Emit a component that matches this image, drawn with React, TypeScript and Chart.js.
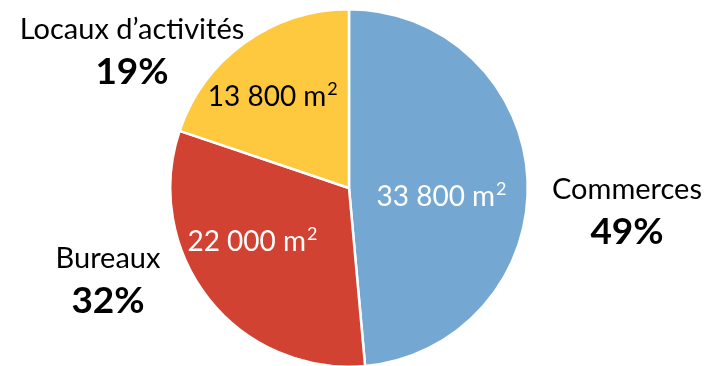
import React, { useEffect, useRef } from "react";
import { Chart, registerables } from "chart.js";

Chart.register(...registerables);

const categories = ["Commerces", "Bureaux", "Locaux d\u2019activités"];
const surfaces = [33800, 22000, 13800];
const surfaceLabels = ["33 800 m", "22 000 m", "13 800 m"];
const unitExponent = "2";
const percentLabels = ["49%", "32%", "19%"];
const colors = ["#74A7D2", "#D14233", "#FEC93F"];
const innerTextColors = ["#FFFFFF", "#FFFFFF", "#000000"];

// layout of labels (not data): angle offset from slice middle (deg), radius fraction
const innerAngleOffset = [8.1, 8.9, -4.2];
const innerRadiusFrac = [0.52, 0.62, 0.665];
const outsideAnchors = [
  { x: 627, y: 190 },
  { x: 108, y: 259 },
  { x: 132, y: 30 },
];

const FONT = "Lato, 'Open Sans', sans-serif";

const labelPlugin = {
  id: "pieLabels",
  afterDatasetsDraw(chart: any) {
    const ctx = chart.ctx;
    const meta = chart.getDatasetMeta(0);
    ctx.save();
    ctx.textBaseline = "middle";
    meta.data.forEach((arc: any, i: number) => {
      const p = arc.getProps(["x", "y", "startAngle", "endAngle", "outerRadius"], true);
      const mid = (p.startAngle + p.endAngle) / 2 + (innerAngleOffset[i] * Math.PI) / 180;
      const r = p.outerRadius * innerRadiusFrac[i];
      const x = p.x + Math.cos(mid) * r;
      const y = p.y + Math.sin(mid) * r;
      ctx.fillStyle = innerTextColors[i];
      const mainFont = `28px ${FONT}`;
      const supFont = `18px ${FONT}`;
      ctx.font = mainFont;
      const w1 = ctx.measureText(surfaceLabels[i]).width;
      ctx.font = supFont;
      const w2 = ctx.measureText(unitExponent).width;
      const x0 = x - (w1 + w2 + 1) / 2;
      ctx.textAlign = "left";
      ctx.font = mainFont;
      ctx.fillText(surfaceLabels[i], x0, y);
      ctx.font = supFont;
      ctx.fillText(unitExponent, x0 + w1 + 1, y - 8);

      const a = outsideAnchors[i];
      ctx.textAlign = "center";
      ctx.fillStyle = "#000000";
      ctx.font = `29px ${FONT}`;
      ctx.fillText(categories[i], a.x, a.y);
      ctx.font = `bold 37px ${FONT}`;
      ctx.fillText(percentLabels[i], a.x, a.y + 42);
    });
    ctx.restore();
  },
};

export default function App() {
  const ref = useRef<HTMLCanvasElement | null>(null);
  useEffect(() => {
    document.body.style.margin = "0";
    const canvas = ref.current!;
    const chart = new Chart(canvas, {
      type: "pie",
      data: {
        labels: categories,
        datasets: [
          {
            data: surfaces,
            backgroundColor: colors,
            borderColor: "#FFFFFF",
            borderWidth: 2.5,
          },
        ],
      },
      options: {
        responsive: false,
        animation: false,
        layout: { padding: { top: 8, bottom: 2, left: 0, right: 9 } },
        plugins: {
          legend: { display: false },
          tooltip: { enabled: false },
        },
      },
      plugins: [labelPlugin],
    });
    return () => chart.destroy();
  }, []);
  return (
    <div style={{ width: 707, height: 366, overflow: "hidden", background: "#fff" }}>
      <canvas ref={ref} width={707} height={370} style={{ display: "block" }} />
    </div>
  );
}
